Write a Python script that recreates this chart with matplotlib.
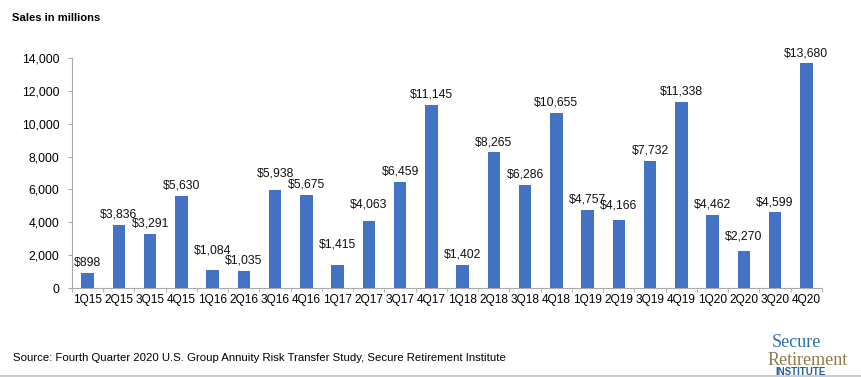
import numpy as np
import matplotlib.pyplot as plt

quarters = ["1Q15", "2Q15", "3Q15", "4Q15", "1Q16", "2Q16", "3Q16", "4Q16",
            "1Q17", "2Q17", "3Q17", "4Q17", "1Q18", "2Q18", "3Q18", "4Q18",
            "1Q19", "2Q19", "3Q19", "4Q19", "1Q20", "2Q20", "3Q20", "4Q20"]
sales = [898, 3836, 3291, 5630, 1084, 1035, 5938, 5675,
         1415, 4063, 6459, 11145, 1402, 8265, 6286, 10655,
         4757, 4166, 7732, 11338, 4462, 2270, 4599, 13680]
yticks = [0, 2000, 4000, 6000, 8000, 10000, 12000, 14000]

plt.rcParams['font.family'] = ['Liberation Sans', 'DejaVu Sans']

fig = plt.figure(figsize=(8.61, 3.77), dpi=100)
ax = fig.add_axes([0.0836, 0.236, 0.871, 0.61])

x = np.arange(len(quarters))
ax.bar(x, sales, width=0.4, color="#4472C4", zorder=2)

# some labels sit higher in the source chart so neighbours don't collide
raised = {"1Q16": 10, "3Q16": 8, "1Q17": 10, "2Q17": 8, "2Q19": 6, "2Q20": 6}
for q, xi, v in zip(quarters, x, sales):
    ax.annotate(f"${v:,}", (xi, v), textcoords="offset points",
                xytext=(0, raised.get(q, 3)),
                ha='center', va='bottom', fontsize=8.8, color="#111111")

ax.set_xlim(-0.5, len(quarters) - 0.5)
ax.set_ylim(0, 14000)
ax.set_yticks(yticks)
ax.set_yticklabels([f"{t:,}" for t in yticks], fontsize=8.8)
ax.set_xticks(x)
ax.set_xticklabels(quarters, fontsize=8.6)
ax.set_xticks(np.arange(-0.5, len(quarters)), minor=True)
ax.tick_params(axis='x', which='major', length=0, pad=4)
ax.tick_params(axis='x', which='minor', length=3, color="#aaaaaa")
ax.tick_params(axis='y', length=3, color="#aaaaaa", pad=6)
for s in ['top', 'right']:
    ax.spines[s].set_visible(False)
for s in ['left', 'bottom']:
    ax.spines[s].set_color("#aaaaaa")

fig.text(0.014, 0.952, "Sales in millions", fontsize=8.1, fontweight='bold', va='center')
fig.text(0.015, 0.05, "Source: Fourth Quarter 2020 U.S. Group Annuity Risk Transfer Study, Secure Retirement Institute",
         fontsize=8.2, va='center')

# logo
fig.text(0.925, 0.092, "Secure", fontsize=13, color="#2a6fb0", family='Liberation Serif', ha='center', va='center')
fig.text(0.938, 0.045, "Retirement", fontsize=13, color="#8c7a4a", family='Liberation Serif', ha='center', va='center')
fig.text(0.93, 0.012, "INSTITUTE", fontsize=7, color="#1f5fa8", fontweight='bold', ha='center', va='center')
fig.add_artist(plt.Line2D([0, 1], [0.003, 0.003], color="#cccccc", lw=1.5, transform=fig.transFigure))

fig.savefig("out.png", dpi=100)
